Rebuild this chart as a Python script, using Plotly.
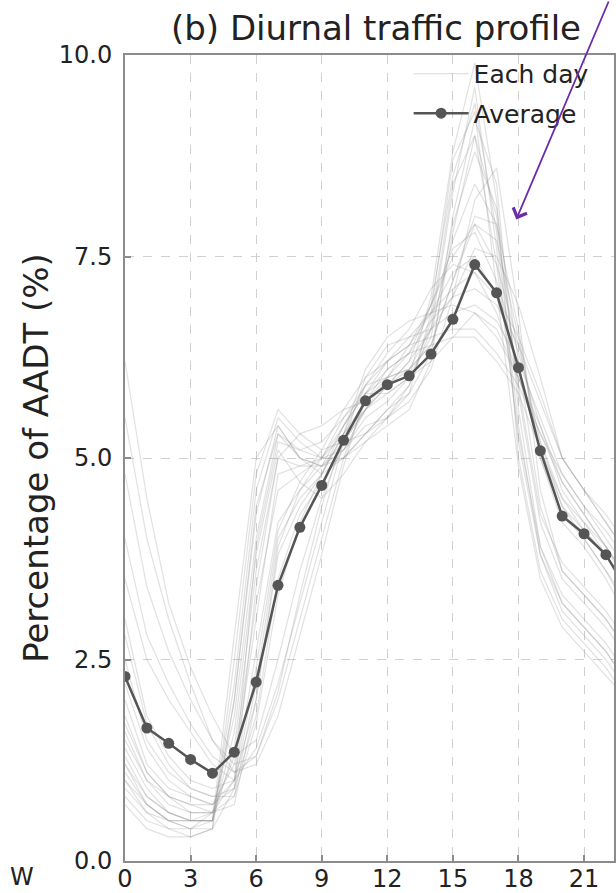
import plotly.graph_objects as go

hours = list(range(24))
avg_pct = [2.29, 1.65, 1.46, 1.26, 1.09, 1.35, 2.22, 3.42, 4.14, 4.66, 5.22, 5.71,
           5.91, 6.02, 6.29, 6.72, 7.40, 7.05, 6.12, 5.09, 4.28, 4.06, 3.80, 3.35]

day_profiles = [
    [1.2,0.8,0.6,0.5,0.6,1.8,4.0,5.3,5.0,4.8,5.0,5.3,5.6,5.8,6.3,7.8,9.0,8.0,5.8,4.2,3.5,3.2,2.9,2.5],
    [1.0,0.7,0.5,0.5,0.5,2.2,4.6,5.5,5.2,5.0,5.1,5.4,5.5,5.9,6.6,8.3,9.6,7.6,5.2,3.8,3.2,2.9,2.6,2.2],
    [1.5,1.0,0.8,0.7,0.7,1.2,3.0,4.8,4.9,5.0,5.3,5.6,6.0,6.1,6.4,7.2,8.0,7.9,6.6,5.0,4.2,3.9,3.5,3.0],
    [3.5,2.5,2.0,1.6,1.2,1.0,1.4,2.2,3.2,4.2,5.2,6.0,6.4,6.5,6.6,6.8,6.9,6.7,6.2,5.5,4.8,4.4,4.0,3.6],
    [5.5,4.0,3.0,2.2,1.5,1.1,1.2,1.8,2.8,3.8,4.9,5.8,6.2,6.4,6.5,6.6,6.6,6.3,5.9,5.3,4.7,4.3,3.9,3.5],
    [2.0,1.2,0.9,0.8,0.7,1.0,2.6,4.2,4.6,4.9,5.4,5.8,6.1,6.3,6.9,7.6,7.8,7.2,6.3,5.4,4.6,4.2,3.9,3.4],
    [0.9,0.6,0.4,0.4,0.5,2.8,5.0,5.4,5.0,4.9,5.1,5.5,5.7,6.0,7.0,8.8,9.9,8.2,5.0,3.6,3.0,2.7,2.4,2.0],
    [1.8,1.1,0.8,0.6,0.6,0.8,2.2,4.0,4.5,4.8,5.3,5.9,6.3,6.6,7.1,7.4,7.3,6.8,6.0,5.3,4.8,4.4,4.1,3.7],
    [6.2,4.5,3.2,2.4,1.8,1.3,1.5,2.5,3.6,4.5,5.2,5.6,5.8,6.0,6.2,6.5,6.8,6.6,6.0,5.2,4.4,4.0,3.6,3.2],
    [1.3,0.8,0.6,0.5,0.5,1.6,3.8,5.1,4.7,4.5,4.8,5.2,5.5,5.7,6.1,7.0,8.2,8.6,6.8,4.6,3.6,3.3,3.0,2.6],
    [2.5,1.5,1.1,0.9,0.8,0.9,1.8,3.5,4.3,4.7,5.1,5.6,5.9,6.2,6.6,7.0,7.6,7.5,6.9,6.0,5.0,4.6,4.2,3.8],
    [1.1,0.7,0.5,0.4,0.4,2.5,4.8,5.6,5.3,5.1,5.2,5.3,5.5,5.8,6.8,8.7,9.3,7.1,4.9,3.5,2.9,2.6,2.3,2.0],
    [4.0,2.8,2.2,1.7,1.3,1.1,1.3,2.0,3.0,4.0,5.0,5.7,6.1,6.3,6.4,6.5,6.5,6.2,5.8,5.1,4.5,4.1,3.8,3.4],
    [1.6,1.0,0.7,0.6,0.6,1.3,3.2,4.6,4.8,5.0,5.5,5.9,6.0,6.1,6.4,7.2,7.9,7.7,6.5,5.0,4.3,4.0,3.6,3.1],
    [0.8,0.5,0.4,0.3,0.4,2.0,4.4,5.3,5.1,5.0,5.0,5.2,5.4,5.6,6.2,8.0,9.2,8.4,5.6,3.9,3.2,2.9,2.6,2.2],
    [3.0,1.8,1.3,1.0,0.9,1.0,2.0,3.8,4.4,4.8,5.3,5.7,6.0,6.3,6.7,7.0,7.1,6.9,6.4,5.7,5.0,4.6,4.3,3.9],
    [1.4,0.9,0.6,0.5,0.5,1.4,3.6,5.0,4.9,4.9,5.2,5.6,5.9,6.1,6.6,7.7,8.4,7.9,5.9,4.3,3.7,3.4,3.1,2.7],
    [2.2,1.4,1.0,0.8,0.7,0.9,2.4,4.1,4.7,5.1,5.6,6.0,6.2,6.4,6.8,7.3,7.5,7.0,6.1,5.1,4.4,4.1,3.8,3.3],
    [1.0,0.6,0.5,0.4,0.6,1.0,3.9,5.2,5.1,5.2,5.5,5.8,5.8,6.0,6.5,7.9,8.8,8.1,6.2,4.4,3.6,3.3,3.0,2.6],
    [0.7,0.4,0.3,0.3,0.4,0.9,3.4,5.0,5.3,5.4,5.6,5.7,5.9,6.2,6.9,8.5,9.4,7.8,5.4,3.8,3.1,2.8,2.5,2.1],
    [4.8,3.4,2.6,2.0,1.5,1.2,1.3,2.1,3.3,4.4,5.3,6.1,6.5,6.7,6.8,6.9,6.8,6.5,6.0,5.4,4.7,4.3,3.9,3.5],
    [1.7,1.1,0.8,0.7,0.6,0.7,2.0,3.9,4.6,5.0,5.4,5.8,6.0,6.4,6.9,7.5,7.9,7.4,6.4,5.2,4.5,4.2,3.8,3.4],
    [1.2,0.7,0.5,0.5,0.5,2.0,4.3,5.4,5.0,4.9,5.0,5.3,5.6,5.9,6.7,8.4,9.0,7.4,5.3,3.9,3.3,3.0,2.7,2.3],
    [2.8,1.7,1.2,0.9,0.8,0.8,1.7,3.3,4.2,4.8,5.4,5.9,6.2,6.5,6.8,7.1,7.3,7.0,6.5,5.8,5.0,4.6,4.2,3.8],
]

x_ticks = [0, 3, 6, 9, 12, 15, 18, 21]
y_ticks = [0.0, 2.5, 5.0, 7.5, 10.0]
y_tick_text = ["0.0", "2.5", "5.0", "7.5", "10.0"]

FONT = "DejaVu Sans"
fig = go.Figure()

for i, prof in enumerate(day_profiles):
    fig.add_trace(go.Scatter(
        x=hours, y=prof, mode="lines",
        line=dict(color="rgba(135,135,135,0.25)", width=1.2),
        name="Each day", showlegend=(i == 0), legendgroup="day",
        hoverinfo="skip"))

fig.add_trace(go.Scatter(
    x=hours, y=avg_pct, mode="lines+markers",
    line=dict(color="#555555", width=2.5),
    marker=dict(color="#555555", size=11),
    name="Average", legendgroup="avg"))

axis_common = dict(
    showline=True, linecolor="#8c8c8c", linewidth=2, mirror=True,
    ticks="inside", ticklen=6, tickwidth=1.5, tickcolor="#8c8c8c",
    showgrid=True, gridcolor="#d0d0d0", griddash="dash", gridwidth=1.2,
    zeroline=False, tickfont=dict(family=FONT, size=24, color="#222"),
)

fig.update_xaxes(range=[0, 22.37], tickvals=x_ticks, ticklabelstandoff=-5,
                 **axis_common)
fig.update_yaxes(range=[0, 10], tickvals=y_ticks, ticktext=y_tick_text,
                 ticklabelstandoff=6,
                 title=dict(text="Percentage of AADT (%)",
                            font=dict(family=FONT, size=34, color="#222"),
                            standoff=0),
                 **axis_common)

fig.add_annotation(xref="paper", yref="paper", x=0.513, y=1.0, yshift=27,
                   text="(b) Diurnal traffic profile", showarrow=False,
                   font=dict(family=FONT, size=34, color="#222"),
                   xanchor="center", yanchor="middle")

fig.add_annotation(xref="paper", yref="paper", x=-0.24, y=0, yshift=-16,
                   text="W", showarrow=False,
                   font=dict(family=FONT, size=24, color="#222"),
                   xanchor="left", yanchor="middle")

fig.add_annotation(x=17.9, y=7.96, xref="x", yref="y", text="",
                   showarrow=True, arrowhead=4, arrowsize=1.6, arrowwidth=1.8,
                   arrowcolor="#6a2ca8", ax=93, ay=-220)

fig.update_layout(
    width=616, height=893,
    margin=dict(l=125, r=0, t=55, b=31),
    paper_bgcolor="white", plot_bgcolor="white",
    showlegend=True,
    legend=dict(x=0.58, y=1.005, xanchor="left", yanchor="top",
                bgcolor="rgba(0,0,0,0)", borderwidth=0,
                font=dict(family=FONT, size=25, color="#222"),
                itemwidth=55, tracegroupgap=4),
)

fig.write_html("out.html",
               config={"displayModeBar": False},
               post_script="document.body.style.margin='0';"
                           "document.documentElement.style.overflow='hidden';")
